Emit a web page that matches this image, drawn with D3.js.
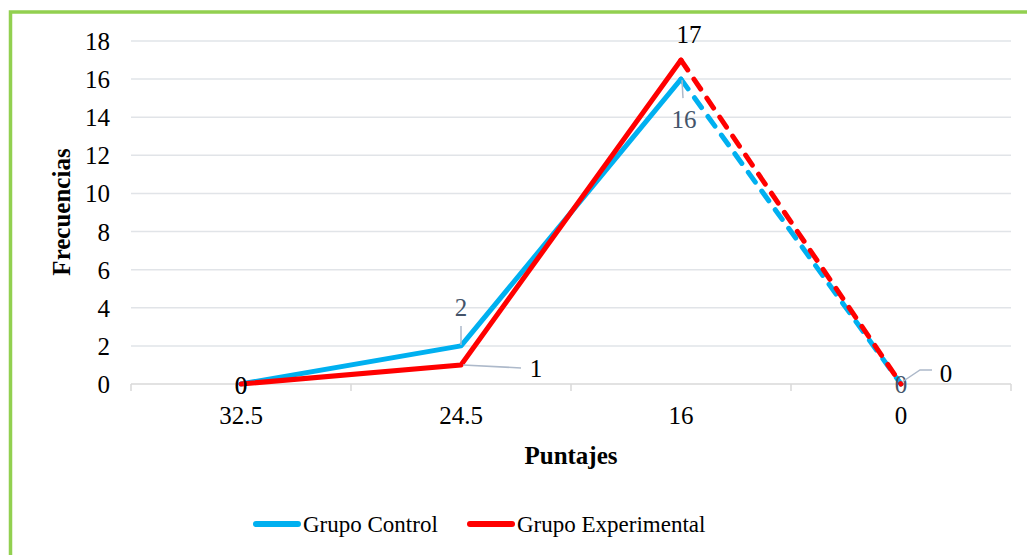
<!DOCTYPE html>
<html><head><meta charset="utf-8">
<script src="https://cdn.jsdelivr.net/npm/d3@7"></script>
<style>
html,body{margin:0;padding:0;background:#fff;}
svg{display:block;}
svg text{font-family:"Liberation Serif","Times New Roman",serif;}
</style></head>
<body><svg id="chart" width="1027" height="555"></svg>
<script>
const categories = ["32.5", "24.5", "16", "0"];
const controlValues = [0, 2, 16, 0];
const experimentalValues = [0, 1, 17, 0];
const yTicks = [0, 2, 4, 6, 8, 10, 12, 14, 16, 18];
const seriesNames = ["Grupo Control", "Grupo Experimental"];

const series = [
  {name: seriesNames[0], values: controlValues, color: "#00B0F0", labelColor: "#44546A",
   // label offsets [dx, dy, leader?] per point
   labels: [[0, 10, null], [0, -30, [0, -1, 0, -20]], [3, 49, [1, 1, 2, 19]], [0, 9, null]]},
  {name: seriesNames[1], values: experimentalValues, color: "#FF0000", labelColor: "#000000",
   labels: [[0, 10, null], [75, 12, [2, 0, 60, 3]], [8, -17, null], [45, -2, [1, -2, 19, -14, 31, -14]]]}
];

const FONT = "Liberation Serif, Times New Roman, serif";
const svg = d3.select("#chart");
// green frame
svg.append("rect").attr("x", 10.5).attr("y", 12).attr("width", 1030).attr("height", 560)
  .attr("fill", "none").attr("stroke", "#92D050").attr("stroke-width", 3.5);

const x = d3.scaleBand().domain(categories).range([131, 1011]).paddingInner(0).paddingOuter(0);
const y = d3.scaleLinear().domain([0, 18]).range([384, 41]);
const cx = c => x(c) + x.bandwidth() / 2;

// gridlines
svg.append("g").selectAll("line").data(yTicks.filter(d => d > 0)).join("line")
  .attr("x1", 131).attr("x2", 1011).attr("y1", d => y(d)).attr("y2", d => y(d))
  .attr("stroke", "#E1E4E8").attr("stroke-width", 1.5);

// y axis labels
const yAxis = d3.axisLeft(y).tickValues(yTicks).tickSize(0).tickPadding(0);
const gy = svg.append("g").attr("transform", "translate(110,0)").call(yAxis)
  .attr("font-family", FONT);
gy.select(".domain").remove();
gy.selectAll("text").attr("font-size", 25).attr("fill", "#000").attr("dy", "0.34em");

// x axis
const xAxis = d3.axisBottom(x).tickSize(0).tickPadding(22);
const gx = svg.append("g").attr("transform", "translate(0,384)").call(xAxis)
  .attr("font-family", FONT);
gx.select(".domain").attr("stroke", "#D9D9D9").attr("stroke-width", 1.5).attr("d", "M131,0H1011");
gx.selectAll("text").attr("font-size", 25).attr("fill", "#000");
// ticks at band boundaries
const edges = categories.map(c => x(c)).concat([x(categories[categories.length - 1]) + x.bandwidth()]);
svg.append("g").selectAll("line").data(edges).join("line")
  .attr("x1", d => d).attr("x2", d => d).attr("y1", 384).attr("y2", 391)
  .attr("stroke", "#D9D9D9").attr("stroke-width", 1.5);

// axis titles
svg.append("text").attr("x", 571).attr("y", 464).attr("text-anchor", "middle")
  .attr("font-size", 25).attr("font-weight", "bold").text("Puntajes");
svg.append("text").attr("transform", "translate(70,212) rotate(-90)").attr("text-anchor", "middle")
  .attr("font-size", 25).attr("font-weight", "bold").text("Frecuencias");

// lines
const line = d3.line().x(d => cx(d.c)).y(d => y(d.v));
series.forEach(s => {
  const pts = categories.map((c, i) => ({c, v: s.values[i]}));
  const g = svg.append("g");
  g.append("path").attr("d", line(pts.slice(0, 3))).attr("fill", "none")
    .attr("stroke", s.color).attr("stroke-width", 5).attr("stroke-linejoin", "round").attr("stroke-linecap", "round");
  g.append("path").attr("d", line(pts.slice(2, 4))).attr("fill", "none")
    .attr("stroke", s.color).attr("stroke-width", 5).attr("stroke-dasharray", "12,11").attr("stroke-linecap", "round");
});

// data labels
series.forEach(s => {
  s.values.forEach((v, i) => {
    const px = cx(categories[i]), py = y(v);
    const [dx, dy, leader] = s.labels[i];
    if (leader) {
      const pts = [];
      for (let k = 0; k < leader.length; k += 2) pts.push([px + leader[k], py + leader[k + 1]]);
      svg.append("path").attr("d", d3.line()(pts)).attr("fill", "none")
        .attr("stroke", "#ADB9CA").attr("stroke-width", 1.5);
    }
    svg.append("text").attr("x", px + dx).attr("y", py + dy).attr("text-anchor", "middle")
      .attr("font-size", 25).attr("fill", s.labelColor).text(v);
  });
});

// legend
const legend = [{x: 256, tx: 303}, {x: 470, tx: 517}];
series.forEach((s, i) => {
  svg.append("line").attr("x1", legend[i].x).attr("x2", legend[i].x + 42).attr("y1", 524).attr("y2", 524)
    .attr("stroke", s.color).attr("stroke-width", 6).attr("stroke-linecap", "round");
  svg.append("text").attr("x", legend[i].tx).attr("y", 532).attr("font-size", 23).attr("fill", "#000").text(s.name);
});
</script></body></html>
